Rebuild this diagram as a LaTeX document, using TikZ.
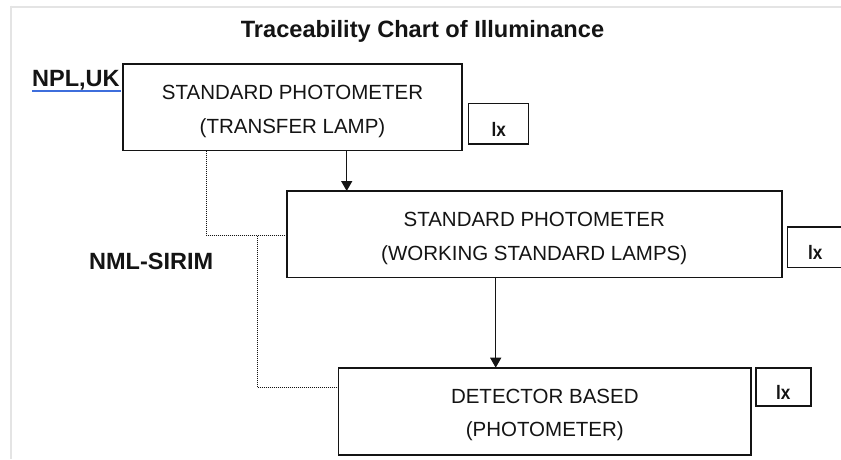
\documentclass[tikz,border=0pt]{standalone}
\usepackage{fontspec}
\setmainfont{Liberation Sans}
\usetikzlibrary{arrows.meta}
\definecolor{linkblue}{RGB}{62,110,220}
\definecolor{framegray}{RGB}{228,228,228}
\definecolor{ink}{RGB}{20,20,20}
\tikzset{
  x=1pt, y=-1pt,
  bx/.style={draw=ink, line width=1.8pt, rectangle, inner sep=0pt, outer sep=0pt, anchor=north west},
  boxtext/.style={inner sep=0pt, anchor=base, text=ink, font=\fontsize{20.5pt}{24pt}\selectfont},
  unittext/.style={inner sep=0pt, anchor=base, text=ink, font=\bfseries\fontsize{19.5pt}{22pt}\selectfont},
  labeltext/.style={inner sep=0pt, anchor=base west, text=ink, font=\bfseries\fontsize{23.5pt}{26pt}\selectfont},
  arr/.style={draw=ink, line width=1.4pt, -{Triangle[length=10pt,width=11pt]}},
  dotline/.style={draw=ink, line width=0.9pt, dash pattern=on 1pt off 1pt},
}
\newcommand{\unitlx}{\scalebox{0.88}[1]{lx}}
\begin{document}
\begin{tikzpicture}
\useasboundingbox (0,0) rectangle (841,459);
\clip (0,0) rectangle (841,459);
\fill[white] (0,0) rectangle (841,459);
% frame lines
\draw[framegray, line width=2pt] (10,6.7) -- (841,6.7);
\draw[framegray, line width=2pt] (11,5.7) -- (11,459);

% title
\node[inner sep=0pt, anchor=base, text=ink, font=\bfseries\fontsize{23.6pt}{26pt}\selectfont] (title) at (422.5,37.3) {Traceability Chart of Illuminance};

% labels
\node[labeltext] (npl) at (32,86.7) {NPL,UK};
\draw[linkblue, line width=2.4pt] (npl.base west) ++(0,4) -- ++(89,0);
\node[labeltext] (nml) at (89,269.3) {NML-SIRIM};

% boxes
\node[bx, minimum width=339.6pt, minimum height=86.2pt] (b1) at (122.7,64.3) {};
\node[bx, minimum width=495pt, minimum height=86.5pt] (b2) at (286.7,191) {};
\node[bx, minimum width=412.5pt, minimum height=87.3pt] (b3) at (338.5,367.7) {};

\node[boxtext] (t1a) at (292.5,99) {STANDARD PHOTOMETER};
\node[boxtext] (t1b) at (292.5,133) {(TRANSFER LAMP)};
\node[boxtext] (t2a) at (534.2,226.7) {STANDARD PHOTOMETER};
\node[boxtext] (t2b) at (534.2,260) {(WORKING STANDARD LAMPS)};
\node[boxtext] (t3a) at (544.8,403.3) {DETECTOR BASED};
\node[boxtext] (t3b) at (544.8,436.7) {(PHOTOMETER)};

% unit boxes
\node[bx, line width=1.6pt, minimum width=60pt, minimum height=40.7pt] (u1) at (468.3,103.3) {};
\node[bx, line width=1.6pt, minimum width=56pt, minimum height=40.6pt] (u2) at (787.3,226.7) {};
\node[bx, line width=1.6pt, minimum width=55.3pt, minimum height=38pt] (u3) at (755.7,367.7) {};
\node[unittext] (l1) at (498.8,136) {\unitlx};
\node[unittext] (l2) at (815.3,259.3) {\unitlx};
\node[unittext] (l3) at (783.3,399.3) {\unitlx};

% arrows
\coordinate (a1x) at (346.7,0);
\coordinate (a2x) at (495.7,0);
\draw[arr] (b1.south -| a1x) -- (b2.north -| a1x);
\draw[arr] (b2.south -| a2x) -- (b3.north -| a2x);

% dotted connectors
\coordinate (d1x) at (206.7,0);
\coordinate (dy1) at (0,235.7);
\coordinate (dj) at (257.7,235.7);
\coordinate (dy2) at (0,387.7);
\draw[dotline] (b1.south -| d1x) |- (b2.west |- dy1);
\draw[dotline] (dj) |- (b3.west |- dy2);
\end{tikzpicture}
\end{document}
